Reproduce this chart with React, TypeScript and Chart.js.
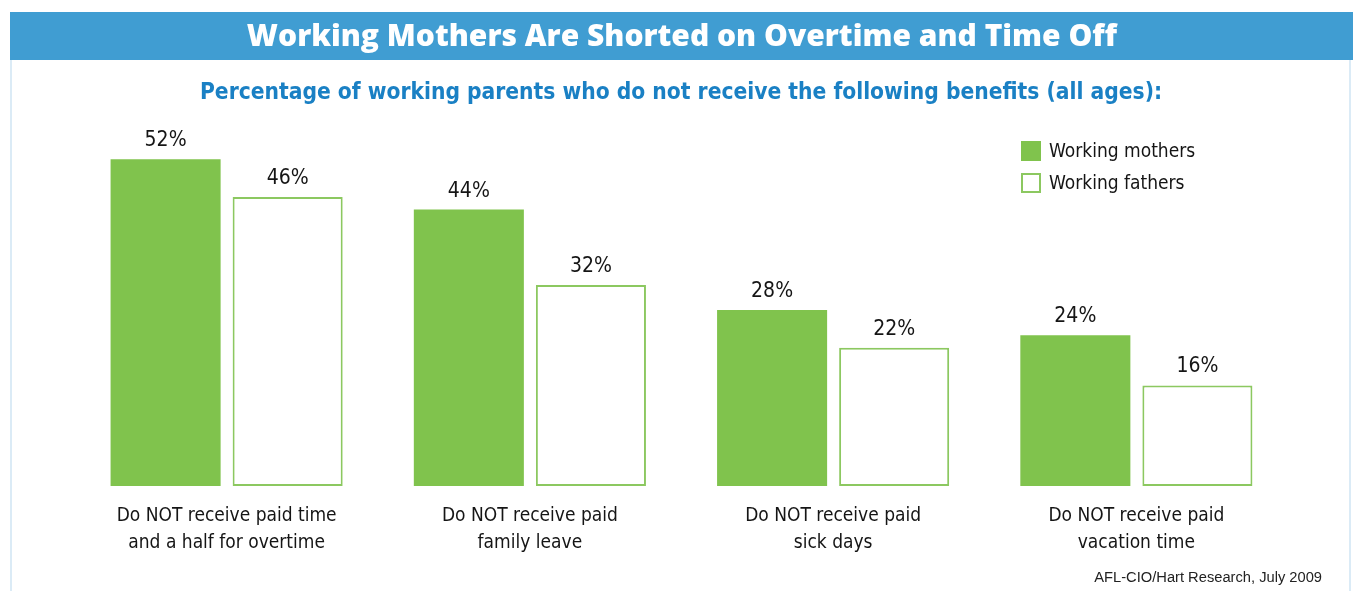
import React, { useEffect, useRef } from "react";
import { Chart, registerables } from "chart.js";

Chart.register(...registerables);

const titleText = "Working Mothers Are Shorted on Overtime and Time Off";
const subtitleText =
  "Percentage of working parents who do not receive the following benefits (all ages):";
const sourceText = "AFL-CIO/Hart Research, July 2009";

const categories: string[][] = [
  ["Do NOT receive paid time", "and a half for overtime"],
  ["Do NOT receive paid", "family leave"],
  ["Do NOT receive paid", "sick days"],
  ["Do NOT receive paid", "vacation time"],
];
const seriesNames = ["Working mothers", "Working fathers"];
const mothers = [52, 44, 28, 24];
const fathers = [46, 32, 22, 16];

const GREEN = "#80c34d";
const GREEN_LINE = "#8cc860";
const BLUE = "#409dd2";
const NARROW = "'Liberation Sans Narrow', 'DejaVu Sans Condensed', sans-serif";

const decorPlugin = {
  id: "decor",
  beforeDraw(chart: any) {
    const { ctx, width, height } = chart;
    ctx.save();
    ctx.fillStyle = "#ffffff";
    ctx.fillRect(0, 0, width, height);
    // frame lines
    ctx.strokeStyle = "#cfe5f3";
    ctx.lineWidth = 1.5;
    ctx.beginPath();
    ctx.moveTo(11, 60);
    ctx.lineTo(11, height);
    ctx.moveTo(1350, 60);
    ctx.lineTo(1350, height);
    ctx.stroke();
    // banner
    ctx.fillStyle = BLUE;
    ctx.fillRect(10, 12, width - 10, 48);
    ctx.fillStyle = "#ffffff";
    ctx.font = "800 30px 'Open Sans', Lato, sans-serif";
    ctx.textAlign = "center";
    ctx.textBaseline = "middle";
    ctx.fillText(titleText, 682, 37);
    // subtitle
    ctx.fillStyle = "#1a80c4";
    ctx.font = "bold 22.6px " + NARROW;
    ctx.fillText(subtitleText, 681, 93);
    // source
    ctx.fillStyle = "#222222";
    ctx.font = "14.7px 'Liberation Sans', Arial, sans-serif";
    ctx.textAlign = "right";
    ctx.fillText(sourceText, 1322, 578);
    ctx.restore();
  },
  afterDatasetsDraw(chart: any) {
    const { ctx } = chart;
    ctx.save();
    ctx.fillStyle = "#151515";
    ctx.font = "21px " + NARROW;
    ctx.textAlign = "center";
    ctx.textBaseline = "alphabetic";
    chart.data.datasets.forEach((ds: any, di: number) => {
      const meta = chart.getDatasetMeta(di);
      meta.data.forEach((bar: any, i: number) => {
        ctx.fillText(ds.data[i] + "%", bar.x, bar.y - 13);
      });
    });
    // legend
    const items = [
      { y: 151, fill: GREEN, stroke: GREEN },
      { y: 183, fill: "#ffffff", stroke: GREEN_LINE },
    ];
    ctx.font = "19px " + NARROW;
    ctx.textAlign = "left";
    ctx.textBaseline = "middle";
    items.forEach((it, i) => {
      ctx.fillStyle = it.fill;
      ctx.fillRect(1021, it.y - 10, 20, 20);
      ctx.strokeStyle = it.stroke;
      ctx.lineWidth = 2;
      ctx.strokeRect(1022, it.y - 9, 18, 18);
      ctx.fillStyle = "#151515";
      ctx.fillText(seriesNames[i], 1049, it.y + 1);
    });
    ctx.restore();
  },
};

export default function App() {
  const ref = useRef<HTMLCanvasElement>(null);
  useEffect(() => {
    if (!ref.current) return;
    const chart = new Chart(ref.current, {
      type: "bar",
      data: {
        labels: categories,
        datasets: [
          {
            label: seriesNames[0],
            data: mothers,
            backgroundColor: GREEN,
            borderColor: GREEN,
            borderWidth: 0,
          },
          {
            label: seriesNames[1],
            data: fathers,
            backgroundColor: "#ffffff",
            borderColor: GREEN_LINE,
            borderWidth: 2,
            borderSkipped: false,
          },
        ],
      },
      options: {
        responsive: false,
        animation: false,
        devicePixelRatio: 1,
        layout: { padding: { top: 109, left: 75, right: 65, bottom: 17 } },
        datasets: {
          bar: { categoryPercentage: 0.805, barPercentage: 0.9016 },
        },
        plugins: {
          legend: { display: false },
          title: { display: false },
          tooltip: { enabled: false },
        },
        scales: {
          x: {
            grid: { display: false, drawTicks: false },
            border: { display: false },
            ticks: {
              color: "#151515",
              padding: 17,
              font: { family: NARROW, size: 19, lineHeight: "27px" },
            },
          },
          y: {
            display: false,
            min: 0,
            max: 60,
          },
        },
      },
      plugins: [decorPlugin],
    });
    return () => chart.destroy();
  }, []);
  return (
    <div style={{ position: "absolute", left: 0, top: 0, width: 1353, height: 591 }}>
      <canvas ref={ref} width={1353} height={591} style={{ display: "block" }} />
    </div>
  );
}
